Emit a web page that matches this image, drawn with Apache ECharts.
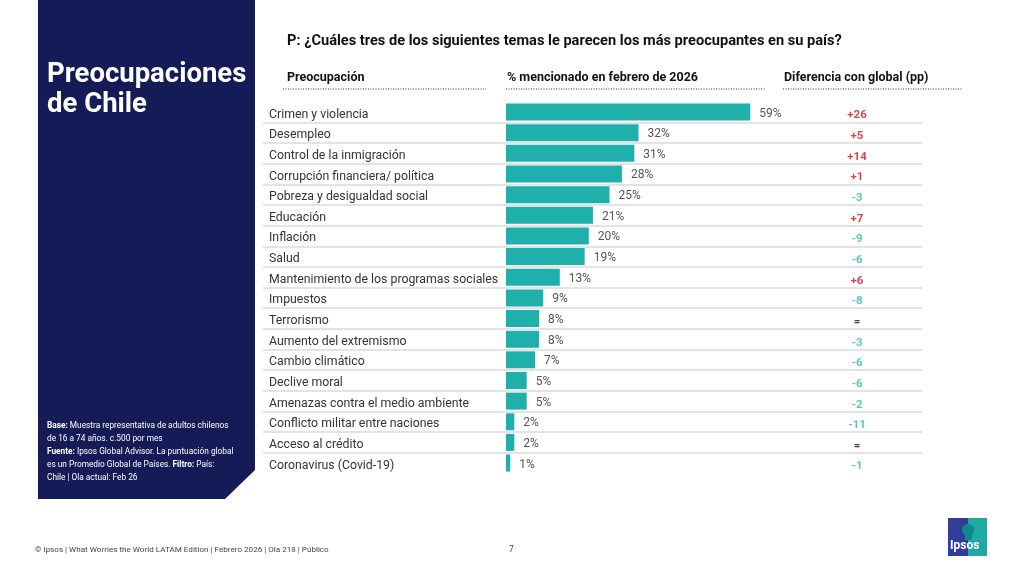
<!DOCTYPE html>
<html>
<head>
<meta charset="utf-8">
<script src="https://cdn.jsdelivr.net/npm/echarts@6/dist/echarts.min.js"></script>
<style>
html,body{margin:0;padding:0;background:#fff;}
#c{width:1024px;height:576px;}
</style>
</head>
<body>
<div id="c"></div>
<script>
// ---- data ----
const categories = [
  'Crimen y violencia','Desempleo','Control de la inmigración','Corrupción financiera/ política',
  'Pobreza y desigualdad social','Educación','Inflación','Salud',
  'Mantenimiento de los programas sociales','Impuestos','Terrorismo','Aumento del extremismo',
  'Cambio climático','Declive moral','Amenazas contra el medio ambiente',
  'Conflicto militar entre naciones','Acceso al crédito','Coronavirus (Covid-19)'
];
const values = [59,32,31,28,25,21,20,19,13,9,8,8,7,5,5,2,2,1];
const diffs = [26,5,14,1,-3,7,-9,-6,6,-8,0,-3,-6,-6,-2,-11,0,-1];

const FONT = 'Roboto, "Noto Sans", sans-serif';
const TEAL = '#20b0ac';
const RED = '#d0161e';
const DTEAL = '#2fb8b3';

function fmtDiff(d){ return d > 0 ? '+' + d : (d < 0 ? '-' + Math.abs(d) : '='); }
function colDiff(d){ return d > 0 ? RED : (d < 0 ? DTEAL : '#111'); }

const TOP = 101.7, BOTTOM = 576 - 473.4;

const chart = echarts.init(document.getElementById('c'), null, {renderer:'canvas'});
const option = {
  backgroundColor:'#ffffff',
  animation:false,
  textStyle:{fontFamily:FONT},
  grid:[
    {left:263, right:102, top:TOP, bottom:BOTTOM},
    {left:506, width:414, top:TOP, bottom:BOTTOM},
    {left:800, width:114, top:TOP, bottom:BOTTOM}
  ],
  xAxis:[
    {gridIndex:0, type:'value', min:0, max:1, show:false},
    {gridIndex:1, type:'value', min:0, max:100, show:false},
    {gridIndex:2, type:'value', min:0, max:1, show:false}
  ],
  yAxis:[
    {gridIndex:0, type:'category', data:categories, inverse:true,
      axisLine:{show:false}, axisTick:{show:false},
      axisLabel:{inside:true, margin:6, align:'left', formatter:'{a|{value}}',
        rich:{a:{color:'#333', fontSize:12.3, fontFamily:FONT, padding:[5,0,0,0]}}},
      splitLine:{show:true, showMinLine:false, showMaxLine:false, lineStyle:{color:'#dadada', width:1.5}}
    },
    {gridIndex:1, type:'category', data:categories, inverse:true, show:false},
    {gridIndex:2, type:'category', data:categories, inverse:true, show:false}
  ],
  series:[
    {
      type:'bar', xAxisIndex:1, yAxisIndex:1, data:values,
      barWidth:17,
      itemStyle:{color:TEAL},
      label:{show:true, position:'right', distance:9, offset:[0,1.5], formatter:'{c}%', color:'#555', fontSize:12, fontFamily:FONT}
    },
    {
      type:'scatter', xAxisIndex:2, yAxisIndex:2, symbolSize:0,
      data: diffs.map((d,i)=>({value:[0.5, i],
        label:{formatter:fmtDiff(d), color:colDiff(d)}})),
      label:{show:true, position:'inside', fontSize:11.5, fontWeight:'bold', fontFamily:FONT, offset:[0,3.5]}
    }
  ],
  graphic:[
    {type:'polygon', shape:{points:[[38,0],[255,0],[255,470],[225,499],[38,499]]}, style:{fill:'#141b57'}, z:-1},
    {type:'text', left:47, top:60, style:{text:'Preocupaciones\nde Chile', fill:'#fff', font:'bold 27.5px '+FONT, lineHeight:30}},
    {type:'text', left:47, top:420, style:{
      text:'{b|Base:} Muestra representativa de adultos chilenos\nde 16 a 74 años. c.500 por mes',
      fill:'#fff', font:'8.3px '+FONT, lineHeight:12.5,
      rich:{b:{fontWeight:'bold', fontSize:8.3, fill:'#fff', fontFamily:FONT}}}},
    {type:'text', left:47, top:446, style:{
      text:'{b|Fuente:} Ipsos Global Advisor. La puntuación global\nes un Promedio Global de Países. {b|Filtro:} País:\nChile | Ola actual: Feb 26',
      fill:'#fff', font:'8.3px '+FONT, lineHeight:12.8,
      rich:{b:{fontWeight:'bold', fontSize:8.3, fill:'#fff', fontFamily:FONT}}}},
    {type:'text', left:287, top:34, style:{text:'P: ¿Cuáles tres de los siguientes temas le parecen los más preocupantes en su país?', fill:'#111', font:'bold 14.6px '+FONT}},
    {type:'text', left:287, top:71, style:{text:'Preocupación', fill:'#111', font:'bold 12.5px '+FONT}},
    {type:'text', left:507, top:71, style:{text:'% mencionado en febrero de 2026', fill:'#111', font:'bold 12.5px '+FONT}},
    {type:'text', left:784, top:71, style:{text:'Diferencia con global (pp)', fill:'#111', font:'bold 12.5px '+FONT}},
    {type:'line', shape:{x1:283,y1:89,x2:486,y2:89}, style:{stroke:'#27306b', lineWidth:1, lineDash:[1,1.5]}},
    {type:'line', shape:{x1:506,y1:89,x2:765,y2:89}, style:{stroke:'#27306b', lineWidth:1, lineDash:[1,1.5]}},
    {type:'line', shape:{x1:783,y1:89,x2:963,y2:89}, style:{stroke:'#27306b', lineWidth:1, lineDash:[1,1.5]}},
    {type:'text', left:35, top:546, style:{text:'© Ipsos | What Worries the World LATAM Edition | Febrero 2026 | Ola 218 | Público', fill:'#444', font:'8.1px '+FONT}},
    {type:'text', left:509, top:545, style:{text:'7', fill:'#444', font:'8.5px '+FONT}},
    // logo
    {type:'rect', shape:{x:948,y:518,width:20,height:38}, style:{fill:'#343c9a'}},
    {type:'rect', shape:{x:968,y:518,width:19,height:38}, style:{fill:'#1ea9a3'}},
    {type:'circle', shape:{cx:968,cy:530,r:6}, style:{fill:'#0f8a8a'}},
    {type:'rect', shape:{x:965,y:534,width:7,height:6}, style:{fill:'#0f8a8a'}},
    {type:'text', left:950, top:540, style:{text:'Ipsos', fill:'#fff', font:'bold 12px '+FONT}}
  ]
};
chart.setOption(option);
</script>
</body>
</html>
